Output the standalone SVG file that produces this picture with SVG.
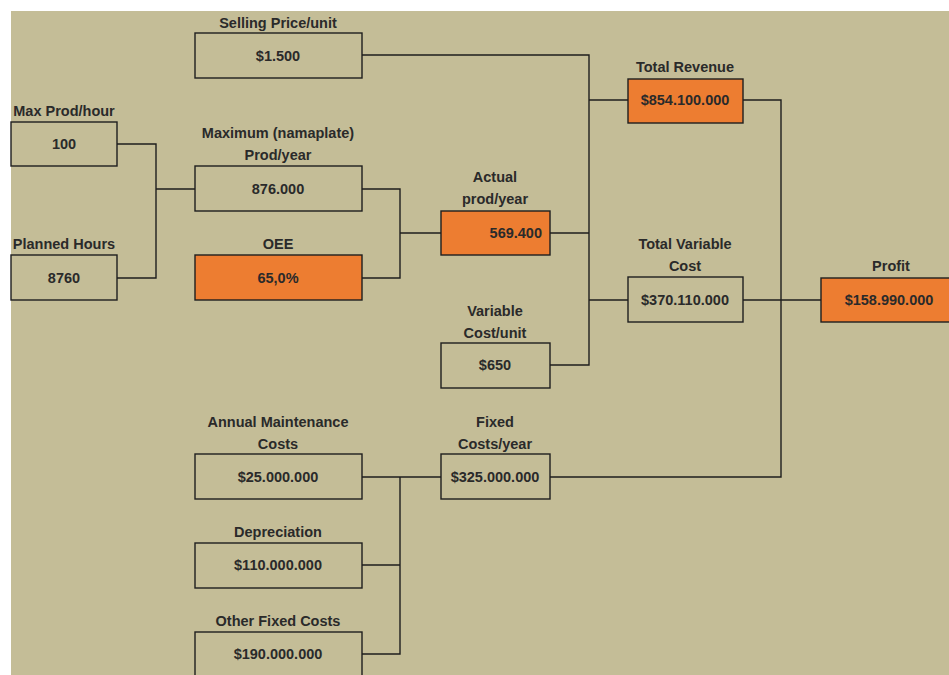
<svg xmlns="http://www.w3.org/2000/svg" width="949" height="675" viewBox="0 0 949 675">
<style>
.box{fill:none;stroke:#1e1e1e;stroke-width:1.4}
.hot{fill:#ED7D31;stroke:#1e1e1e;stroke-width:1.4}
.lbl{font-family:"Liberation Sans",Arial,sans-serif;font-size:14.5px;font-weight:bold;fill:#2a2a2a;text-anchor:middle}
.val{font-family:"Liberation Sans",Arial,sans-serif;font-size:14.5px;font-weight:bold;fill:#2a2a2a;text-anchor:middle}
.con{fill:none;stroke:#1e1e1e;stroke-width:1.4}
</style>
<rect x="0" y="0" width="949" height="675" fill="#ffffff"/>
<rect x="11" y="11" width="938" height="664" fill="#C4BD97"/>
<g id="connectors">
<path class="con" d="M117,144 H156 V278 H117 M156,189 H195"/>
<path class="con" d="M362,189 H400 V278 H362 M400,233 H441"/>
<path class="con" d="M362,55 H589 V365 H550 M550,233 H589 M589,100 H628 M589,300 H628"/>
<path class="con" d="M743,100 H781 V477 H550 M743,300 H821"/>
<path class="con" d="M362,477 H441 M400,477 V654 H362 M362,565 H400"/>
</g>
<g id="selling-price"><text class="lbl" x="278" y="28">Selling Price/unit</text><rect class="box" x="195" y="33" width="167" height="45"/><text class="val" x="278" y="61">$1.500</text></g>
<g id="max-prod-hour"><text class="lbl" x="64" y="116">Max Prod/hour</text><rect class="box" x="11" y="122" width="106" height="44"/><text class="val" x="64" y="149">100</text></g>
<g id="max-prod-year"><text class="lbl" x="278" y="138">Maximum (namaplate)</text><text class="lbl" x="278" y="160">Prod/year</text><rect class="box" x="195" y="166" width="167" height="45"/><text class="val" x="278" y="194">876.000</text></g>
<g id="planned-hours"><text class="lbl" x="64" y="249">Planned Hours</text><rect class="box" x="11" y="255" width="106" height="45"/><text class="val" x="64" y="283">8760</text></g>
<g id="oee"><text class="lbl" x="278" y="249">OEE</text><rect class="hot" x="195" y="255" width="167" height="45"/><text class="val" x="278" y="283">65,0%</text></g>
<g id="actual-prod"><text class="lbl" x="495" y="182">Actual</text><text class="lbl" x="495" y="204">prod/year</text><rect class="hot" x="441" y="211" width="109" height="44"/><text class="val" x="542" y="238" style="text-anchor:end">569.400</text></g>
<g id="total-revenue"><text class="lbl" x="685" y="72">Total Revenue</text><rect class="hot" x="628" y="79" width="115" height="44"/><text class="val" x="685" y="105">$854.100.000</text></g>
<g id="total-variable-cost"><text class="lbl" x="685" y="249">Total Variable</text><text class="lbl" x="685" y="271">Cost</text><rect class="box" x="628" y="277" width="115" height="45"/><text class="val" x="685" y="305">$370.110.000</text></g>
<g id="profit"><text class="lbl" x="891" y="271">Profit</text><rect class="hot" x="821" y="278" width="135" height="44"/><text class="val" x="889" y="305">$158.990.000</text></g>
<g id="variable-cost-unit"><text class="lbl" x="495" y="316">Variable</text><text class="lbl" x="495" y="338">Cost/unit</text><rect class="box" x="441" y="343" width="109" height="45"/><text class="val" x="495" y="370">$650</text></g>
<g id="annual-maintenance"><text class="lbl" x="278" y="427">Annual Maintenance</text><text class="lbl" x="278" y="449">Costs</text><rect class="box" x="195" y="454" width="167" height="45"/><text class="val" x="278" y="482">$25.000.000</text></g>
<g id="fixed-costs"><text class="lbl" x="495" y="427">Fixed</text><text class="lbl" x="495" y="449">Costs/year</text><rect class="box" x="441" y="454" width="109" height="45"/><text class="val" x="495" y="482">$325.000.000</text></g>
<g id="depreciation"><text class="lbl" x="278" y="537">Depreciation</text><rect class="box" x="195" y="543" width="167" height="45"/><text class="val" x="278" y="570">$110.000.000</text></g>
<g id="other-fixed"><text class="lbl" x="278" y="626">Other Fixed Costs</text><rect class="box" x="195" y="632" width="167" height="45"/><text class="val" x="278" y="659">$190.000.000</text></g>
</svg>
